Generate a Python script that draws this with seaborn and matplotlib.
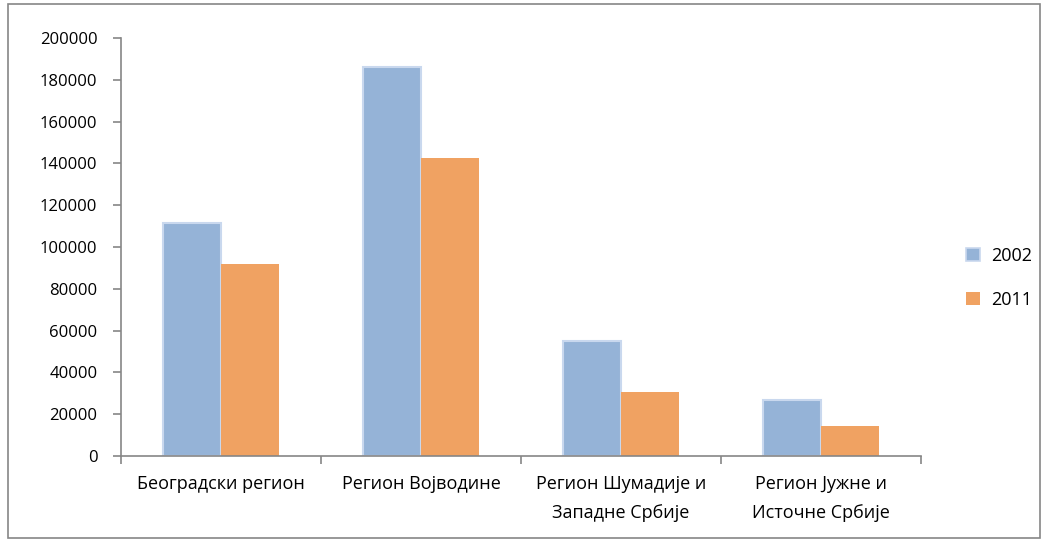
import numpy as np
import pandas as pd
import seaborn as sns
import matplotlib.pyplot as plt
from matplotlib.patches import Rectangle, Patch

# data
regions = ['Београдски регион', 'Регион Војводине',
           'Регион Шумадије и\nЗападне Србије', 'Регион Јужне и\nИсточне Србије']
years = ['2002', '2011']
values_2002 = [111500, 186000, 55000, 27000]
values_2011 = [91800, 142500, 30500, 14200]
yticks = [0, 20000, 40000, 60000, 80000, 100000, 120000, 140000, 160000, 180000, 200000]

df = pd.DataFrame({
    'region': regions * 2,
    'year': [years[0]] * len(regions) + [years[1]] * len(regions),
    'value': values_2002 + values_2011,
})

sns.set_style('white')
plt.rcParams['font.family'] = ['Open Sans', 'DejaVu Sans']
plt.rcParams['text.color'] = 'black'

colors = {'2002': '#95b3d7', '2011': '#f0a262'}
axis_grey = '#868686'

fig = plt.figure(figsize=(10.49, 5.42), dpi=100)
ax = fig.add_axes([121 / 1049, 1 - 456 / 542, 800 / 1049, 418 / 542])

sns.barplot(data=df, x='region', y='value', hue='year', palette=colors,
            width=0.58, gap=0, saturation=1, legend=False, ax=ax)

# light outline on the 2002 bars, none on 2011
for bar in ax.containers[0]:
    bar.set_edgecolor('#c9d8ee')
    bar.set_linewidth(1.5)
for bar in ax.containers[1]:
    bar.set_edgecolor('none')

ax.set_ylim(0, 200000)
ax.set_xlim(-0.5, len(regions) - 0.5)
ax.set_yticks(yticks)
ax.set_yticklabels([str(v) for v in yticks], fontsize=12)

# category boundaries as major ticks, labels on minor ticks at centres
ax.set_xticks(np.arange(-0.5, len(regions), 1.0))
ax.set_xticklabels([])
ax.set_xticks(np.arange(len(regions)), minor=True)
ax.set_xticklabels(regions, minor=True, fontsize=13, linespacing=1.75)
ax.tick_params(axis='x', which='minor', bottom=True, length=0, pad=14, labelcolor='black')
ax.tick_params(axis='x', which='major', bottom=True, length=6, width=1.2,
               color=axis_grey, direction='out')
ax.tick_params(axis='y', left=True, length=6, width=1.2, color=axis_grey,
               direction='out', pad=11, labelcolor='black')
ax.set_xlabel('')
ax.set_ylabel('')

for side in ['top', 'right']:
    ax.spines[side].set_visible(False)
for side in ['left', 'bottom']:
    ax.spines[side].set_color(axis_grey)
    ax.spines[side].set_linewidth(1.2)

handles = [Patch(facecolor=colors['2002'], edgecolor='#c9d8ee', linewidth=1.2, label='2002'),
           Patch(facecolor=colors['2011'], edgecolor='none', label='2011')]
fig.legend(handles=handles, loc='center left', bbox_to_anchor=(950 / 1049, 1 - 278 / 542),
           frameon=False, fontsize=13, handlelength=0.75, handleheight=0.75,
           handletextpad=0.6, labelspacing=1.45)

# chart area border
fig.patches.append(Rectangle((8 / 1049, 4 / 542), 1032 / 1049, 534 / 542,
                             transform=fig.transFigure, fill=False,
                             edgecolor=axis_grey, linewidth=1.2))

fig.savefig('out.png', dpi=100)
